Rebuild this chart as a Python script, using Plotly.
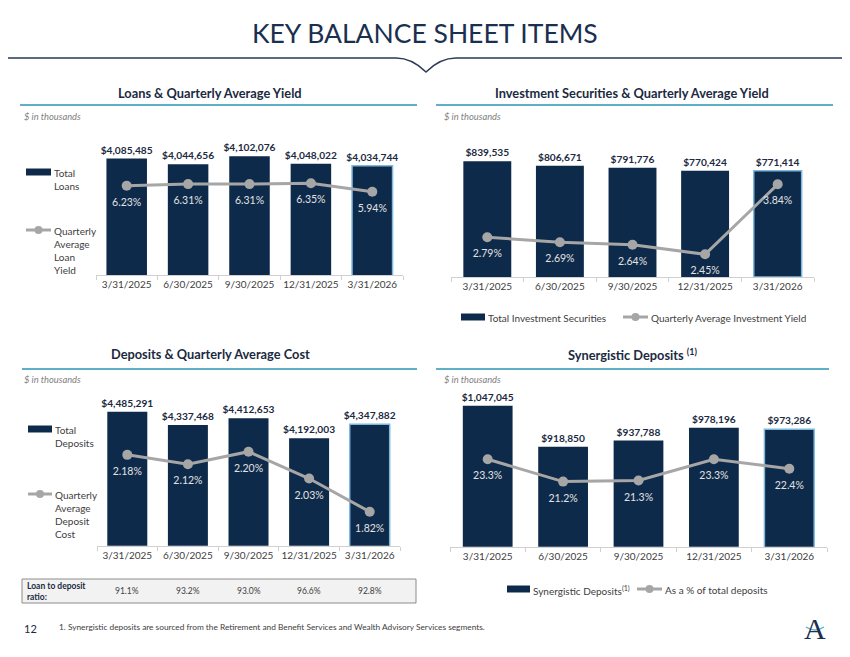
import plotly.graph_objects as go

# ---------------- data ----------------
dates = ["3/31/2025", "6/30/2025", "9/30/2025", "12/31/2025", "3/31/2026"]
loans = [4085485, 4044656, 4102076, 4048022, 4034744]
loan_yield = [6.23, 6.31, 6.31, 6.35, 5.94]
invest = [839535, 806671, 791776, 770424, 771414]
invest_yield = [2.79, 2.69, 2.64, 2.45, 3.84]
deposits = [4485291, 4337468, 4412653, 4192003, 4347882]
deposit_cost = [2.18, 2.12, 2.20, 2.03, 1.82]
synergistic = [1047045, 918850, 937788, 978196, 973286]
syn_pct = [23.3, 21.2, 21.3, 23.3, 22.4]
ltd_ratio = [91.1, 93.2, 93.0, 96.6, 92.8]

OFF = 8  # page body margin
W, H = 850 - OFF, 657 - OFF
NAVY = "#0e2a4a"
DARK = "#1b2a41"
GRAY_LINE = "#a6a6a6"
TEAL = "#5eb0c9"
EDGE = "#7fb8dc"
FONT = "Lato, 'Open Sans', sans-serif"


def X(px):
    return (px - OFF) / W


def Y(py):
    return 1 - (py - OFF) / H


fig = go.Figure()

panels = [
    dict(bars=loans, line=loan_yield, fmt="{:.2f}%", xd=(96, 403), yd=(140, 275),
         yr=(3250000, 4219000), y2r=(1.88, 8.46)),
    dict(bars=invest, line=invest_yield, fmt="{:.2f}%", xd=(451, 814), yd=(140, 277),
         yr=(0, 994000), y2r=(2.0, 4.72)),
    dict(bars=deposits, line=deposit_cost, fmt="{:.2f}%", xd=(97, 400), yd=(400, 545.7),
         yr=(3007800, 4614300), y2r=(1.605, 2.527)),
    dict(bars=synergistic, line=syn_pct, fmt="{:.1f}%", xd=(450, 827), yd=(395, 546.7),
         yr=(606000, 1080400), y2r=(15.1, 29.32)),
]

layout_axes = {}
for i, p in enumerate(panels, start=1):
    xa = "x" if i == 1 else f"x{i}"
    ya_n = 2 * i - 1
    yb_n = 2 * i
    ya = "y" if ya_n == 1 else f"y{ya_n}"
    yb = f"y{yb_n}"
    n = len(p["bars"])
    line_cols = [NAVY] * (n - 1) + [EDGE]
    line_w = [0] * (n - 1) + [1.5]
    fig.add_trace(go.Bar(
        x=dates, y=p["bars"], xaxis=xa, yaxis=ya,
        marker=dict(color=NAVY, line=dict(color=line_cols, width=line_w)),
        text=[f"${v:,}" for v in p["bars"]], textposition="outside",
        constraintext="none", cliponaxis=False,
        textfont=dict(family=FONT, size=10.2, color=DARK, weight="bold"),
        showlegend=False, hoverinfo="skip",
    ))
    fig.add_trace(go.Scatter(
        x=dates, y=p["line"], xaxis=xa, yaxis=yb, mode="lines+markers",
        line=dict(color=GRAY_LINE, width=3), marker=dict(color=GRAY_LINE, size=10),
        cliponaxis=False, showlegend=False, hoverinfo="skip",
    ))
    fig.add_trace(go.Scatter(
        x=dates, y=p["line"], xaxis=xa, yaxis=yb, mode="markers+text",
        marker=dict(color="rgba(0,0,0,0)", size=18),
        text=[p["fmt"].format(v) for v in p["line"]], textposition="bottom center",
        textfont=dict(family=FONT, size=10.5, color="#e2e2e2"),
        cliponaxis=False, showlegend=False, hoverinfo="skip",
    ))
    xkey = "xaxis" if i == 1 else f"xaxis{i}"
    yakey = "yaxis" if ya_n == 1 else f"yaxis{ya_n}"
    ybkey = f"yaxis{yb_n}"
    layout_axes[xkey] = dict(
        domain=[X(p["xd"][0]), X(p["xd"][1])], anchor=ya, type="category",
        showline=True, linecolor="#d0d0d0", linewidth=1, tickangle=0,
        ticks="outside", tickson="boundaries", ticklen=4, tickcolor="#d0d0d0",
        tickfont=dict(family=FONT, size=10, color="#404040"), showgrid=False,
        fixedrange=True,
    )
    layout_axes[yakey] = dict(
        domain=[Y(p["yd"][1]), Y(p["yd"][0])], anchor=xa, range=list(p["yr"]),
        visible=False, showgrid=False, fixedrange=True,
    )
    layout_axes[ybkey] = dict(
        overlaying=ya, anchor=xa, range=list(p["y2r"]), visible=False,
        showgrid=False, side="right", fixedrange=True,
    )

shapes = []
annotations = []

# header line with V notch
shapes.append(dict(type="path", xref="paper", yref="paper",
                   path=f"M {X(0)},{Y(58)} L {X(396)},{Y(58)} Q {X(412)},{Y(58)} {X(426)},{Y(72)} "
                        f"Q {X(440)},{Y(58)} {X(456)},{Y(58)} L {X(850)},{Y(58)}",
                   line=dict(color="#2b3a55", width=1.5)))
annotations.append(dict(text="KEY BALANCE SHEET ITEMS", x=X(425), y=Y(33), xref="paper", yref="paper",
                        showarrow=False, xanchor="center", yanchor="middle",
                        font=dict(family=FONT, size=26.5, color="#1b2f4f")))

# panel titles + underlines + subtitle
titles = [
    ("Loans & Quarterly Average Yield", 210, 93, 20, 417, 105, 22, 117),
    ("Investment Securities & Quarterly Average Yield", 632, 93, 436, 833, 105, 442, 117),
    ("Deposits & Quarterly Average Cost", 210, 354, 22, 417, 369, 22, 380),
    ("Synergistic Deposits <sup>(1)</sup>", 632, 354, 436, 829, 369, 442, 380),
]
for t, tx, ty, l0, l1, ly, sx, sy in titles:
    annotations.append(dict(text=f"<b>{t}</b>", x=X(tx), y=Y(ty), xref="paper", yref="paper",
                            showarrow=False, xanchor="center", yanchor="middle",
                            font=dict(family=FONT, size=12.8, color=DARK)))
    shapes.append(dict(type="line", xref="paper", yref="paper", x0=X(l0), x1=X(l1), y0=Y(ly), y1=Y(ly),
                       line=dict(color=TEAL, width=2)))
    annotations.append(dict(text="<i>$ in thousands</i>", x=X(sx), y=Y(sy), xref="paper", yref="paper",
                            showarrow=False, xanchor="left", yanchor="middle",
                            font=dict(family=FONT, size=9.3, color="#7f7f7f")))


def bar_swatch(x0, x1, yc, h=7):
    shapes.append(dict(type="rect", xref="paper", yref="paper", x0=X(x0), x1=X(x1),
                       y0=Y(yc + h / 2), y1=Y(yc - h / 2), fillcolor=NAVY, line=dict(width=0)))


def line_swatch(x0, x1, yc):
    shapes.append(dict(type="line", xref="paper", yref="paper", x0=X(x0), x1=X(x1),
                       y0=Y(yc), y1=Y(yc), line=dict(color=GRAY_LINE, width=3)))
    xm = (x0 + x1) / 2
    shapes.append(dict(type="circle", xref="paper", yref="paper", x0=X(xm - 4), x1=X(xm + 4),
                       y0=Y(yc + 4), y1=Y(yc - 4), fillcolor=GRAY_LINE, line=dict(width=0)))


def legend_text(text, x, y, size=10):
    annotations.append(dict(text=text, x=X(x), y=Y(y), xref="paper", yref="paper",
                            showarrow=False, xanchor="left", yanchor="top", align="left",
                            font=dict(family=FONT, size=size, color="#404040")))


# loans legend (left, stacked)
bar_swatch(26, 51, 172)
legend_text("Total<br>Loans", 52, 165)
line_swatch(26, 51, 230)
legend_text("Quarterly<br>Average<br>Loan<br>Yield", 52, 223)

# deposits legend
bar_swatch(28, 52, 429)
legend_text("Total<br>Deposits", 53, 422)
line_swatch(28, 52, 494)
legend_text("Quarterly<br>Average<br>Deposit<br>Cost", 53, 487)

# investment legend (bottom)
bar_swatch(461, 485, 317)
legend_text("Total Investment Securities", 486, 310)
line_swatch(623, 648, 317)
legend_text("Quarterly Average Investment Yield", 649, 310)

# synergistic legend (bottom)
bar_swatch(507, 530, 589)
legend_text("Synergistic Deposits<sup>(1)</sup>", 531, 582)
line_swatch(637, 662, 589)
legend_text("As a % of total deposits", 663, 582)

# loan to deposit ratio table
shapes.append(dict(type="rect", xref="paper", yref="paper", x0=X(22), x1=X(416), y0=Y(603), y1=Y(579),
                   fillcolor="#f2f2f2", line=dict(color="#8c8c8c", width=1), layer="below"))
annotations.append(dict(text="<b>Loan to deposit<br>ratio:</b>", x=X(25), y=Y(591), xref="paper", yref="paper",
                        showarrow=False, xanchor="left", yanchor="middle", align="left",
                        font=dict(family=FONT, size=8.5, color=DARK)))
for d, r in zip(dates, ltd_ratio):
    annotations.append(dict(text=f"{r:.1f}%", x=d, y=Y(591), xref="x3", yref="paper",
                            showarrow=False, xanchor="center", yanchor="middle",
                            font=dict(family=FONT, size=8.5, color="#404040")))

# footer
annotations.append(dict(text="12", x=X(22), y=Y(628), xref="paper", yref="paper", showarrow=False,
                        xanchor="left", yanchor="middle", font=dict(family=FONT, size=11, color=DARK)))
annotations.append(dict(text="1. Synergistic deposits are sourced from the Retirement and Benefit Services and Wealth Advisory Services segments.",
                        x=X(57), y=Y(627), xref="paper", yref="paper", showarrow=False,
                        xanchor="left", yanchor="middle", font=dict(family=FONT, size=8.3, color="#404040")))
annotations.append(dict(text="A", x=X(815), y=Y(628), xref="paper", yref="paper", showarrow=False,
                        xanchor="center", yanchor="middle",
                        font=dict(family="'Liberation Serif', 'DejaVu Serif', serif", size=30, color="#1b2f4f")))
shapes.append(dict(type="path", xref="paper", yref="paper",
                   path=f"M {X(806)},{Y(627)} Q {X(815)},{Y(633)} {X(824)},{Y(627)}",
                   line=dict(color=TEAL, width=1.5)))

fig.update_layout(
    width=W, height=H, margin=dict(l=0, r=0, t=0, b=0),
    paper_bgcolor="white", plot_bgcolor="rgba(0,0,0,0)",
    bargap=0.34, font=dict(family=FONT),
    shapes=shapes, annotations=annotations, showlegend=False,
    **layout_axes,
)

fig.write_html("out.html")
